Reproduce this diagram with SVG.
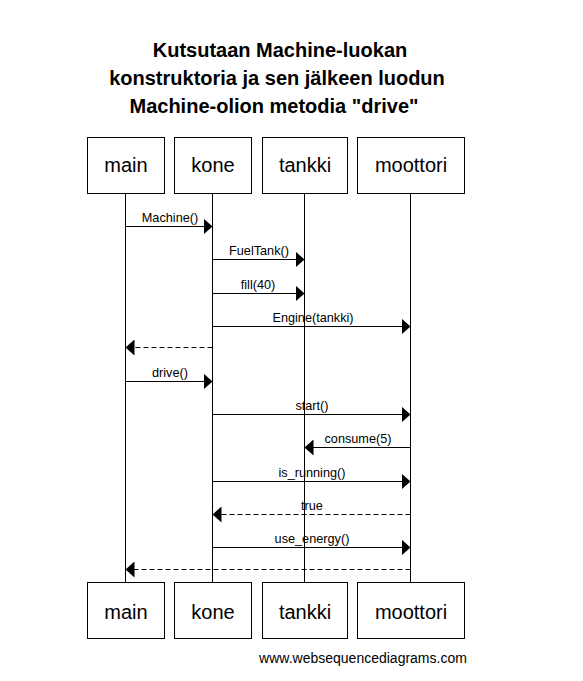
<svg xmlns="http://www.w3.org/2000/svg" width="583" height="681" viewBox="0 0 583 681">
<style>
.box{fill:#fff;stroke:#000;stroke-width:1}
.pl{font-family:"Liberation Sans",Arial,sans-serif;font-size:20px;fill:#000;text-anchor:middle}
.life{stroke:#000;stroke-width:1}
.msg{stroke:#000;stroke-width:1;fill:none}
.ret{stroke:#000;stroke-width:1;fill:none;stroke-dasharray:5,3}
.lbl{font-family:"Liberation Sans",Arial,sans-serif;font-size:12.7px;fill:#000;text-anchor:middle}
.title{font-family:"Liberation Sans",Arial,sans-serif;font-size:20px;font-weight:bold;fill:#000;text-anchor:middle}
.foot{font-family:"Liberation Sans",Arial,sans-serif;font-size:14px;fill:#000;text-anchor:middle}
</style>
<defs>
<marker id="ah" markerWidth="10" markerHeight="16" refX="9" refY="8" orient="auto" markerUnits="userSpaceOnUse">
<path d="M0,0 L9,8 L0,16 Z" fill="#000"/>
</marker>
</defs>
<rect width="583" height="681" fill="#fff"/>
<g id="title">
<text class="title" x="280" y="57">Kutsutaan Machine-luokan</text>
<text class="title" x="277" y="85">konstruktoria ja sen jälkeen luodun</text>
<text class="title" x="274" y="113">Machine-olion metodia "drive"</text>
</g>
<g id="lifelines">
<line class="life" x1="125.5" y1="193" x2="125.5" y2="582"/>
<line class="life" x1="212.5" y1="193" x2="212.5" y2="582"/>
<line class="life" x1="304.5" y1="193" x2="304.5" y2="582"/>
<line class="life" x1="410.5" y1="193" x2="410.5" y2="582"/>
</g>
<g id="main">
<rect class="box" x="87.5" y="137.5" width="77" height="56"/>
<text class="pl" x="126" y="172">main</text>
<rect class="box" x="87.5" y="582.5" width="77" height="56"/>
<text class="pl" x="126" y="619">main</text>
</g>
<g id="kone">
<rect class="box" x="174.5" y="137.5" width="77" height="56"/>
<text class="pl" x="213" y="172">kone</text>
<rect class="box" x="174.5" y="582.5" width="77" height="56"/>
<text class="pl" x="213" y="619">kone</text>
</g>
<g id="tankki">
<rect class="box" x="262.5" y="137.5" width="85" height="56"/>
<text class="pl" x="305" y="172">tankki</text>
<rect class="box" x="262.5" y="582.5" width="85" height="56"/>
<text class="pl" x="305" y="619">tankki</text>
</g>
<g id="moottori">
<rect class="box" x="357.5" y="137.5" width="107" height="56"/>
<text class="pl" x="411" y="172">moottori</text>
<rect class="box" x="357.5" y="582.5" width="107" height="56"/>
<text class="pl" x="411" y="619">moottori</text>
</g>
<g id="connectors">
<line class="msg" x1="125.5" y1="226.5" x2="212.5" y2="226.5" marker-end="url(#ah)"/>
<text class="lbl" x="170" y="222">Machine()</text>
<line class="msg" x1="212.5" y1="259.5" x2="304.5" y2="259.5" marker-end="url(#ah)"/>
<text class="lbl" x="259" y="255">FuelTank()</text>
<line class="msg" x1="212.5" y1="293.5" x2="304.5" y2="293.5" marker-end="url(#ah)"/>
<text class="lbl" x="258" y="289">fill(40)</text>
<line class="msg" x1="212.5" y1="326.5" x2="410.5" y2="326.5" marker-end="url(#ah)"/>
<text class="lbl" x="313" y="322">Engine(tankki)</text>
<line class="ret" x1="212.5" y1="347.5" x2="125.5" y2="347.5" marker-end="url(#ah)"/>
<line class="msg" x1="125.5" y1="381.5" x2="212.5" y2="381.5" marker-end="url(#ah)"/>
<text class="lbl" x="170" y="377">drive()</text>
<line class="msg" x1="212.5" y1="414.5" x2="410.5" y2="414.5" marker-end="url(#ah)"/>
<text class="lbl" x="312" y="410">start()</text>
<line class="msg" x1="410.5" y1="447.5" x2="304.5" y2="447.5" marker-end="url(#ah)"/>
<text class="lbl" x="358" y="443">consume(5)</text>
<line class="msg" x1="212.5" y1="481.5" x2="410.5" y2="481.5" marker-end="url(#ah)"/>
<text class="lbl" x="312" y="477">is_running()</text>
<line class="ret" x1="410.5" y1="514.5" x2="212.5" y2="514.5" marker-end="url(#ah)"/>
<text class="lbl" x="312" y="510">true</text>
<line class="msg" x1="212.5" y1="547.5" x2="410.5" y2="547.5" marker-end="url(#ah)"/>
<text class="lbl" x="312" y="543">use_energy()</text>
<line class="ret" x1="410.5" y1="569.5" x2="125.5" y2="569.5" marker-end="url(#ah)"/>
</g>
<text class="foot" x="363" y="663">www.websequencediagrams.com</text>
</svg>
